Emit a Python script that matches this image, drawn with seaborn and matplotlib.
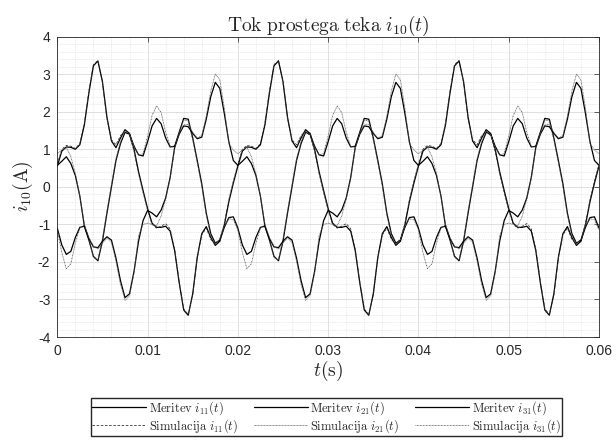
import matplotlib
matplotlib.use("Agg")
import matplotlib.pyplot as plt
import numpy as np
import pandas as pd
import seaborn as sns
from matplotlib.ticker import MultipleLocator

# no-load currents, one sample every 0.5 ms (0 ... 60 ms)
T_STEP = 0.0005
N_SAMPLES = 121

X_TICKS = [0, 0.01, 0.02, 0.03, 0.04, 0.05, 0.06]
X_TICK_LABELS = ["0", "0.01", "0.02", "0.03", "0.04", "0.05", "0.06"]
Y_TICKS = [-4, -3, -2, -1, 0, 1, 2, 3, 4]
Y_TICK_LABELS = ["-4", "-3", "-2", "-1", "0", "1", "2", "3", "4"]

meas_i11 = [
    0.55, 0.95, 1.06, 1.05, 1.00, 1.12, 1.65, 2.50, 3.22, 3.35, 2.80, 1.85, 1.22, 1.04, 1.30, 1.52, 1.42, 1.00, 0.40, -0.10,
    -0.58, -0.97, -1.08, -1.08, -1.05, -1.18, -1.70, -2.55, -3.28, -3.42, -2.85, -1.88, -1.25, -1.06, -1.35, -1.56, -1.45, -1.02, -0.40, 0.10,
    0.55, 0.95, 1.06, 1.05, 1.00, 1.12, 1.65, 2.50, 3.22, 3.35, 2.80, 1.85, 1.22, 1.04, 1.30, 1.52, 1.42, 1.00, 0.40, -0.10,
    -0.58, -0.97, -1.08, -1.08, -1.05, -1.18, -1.70, -2.55, -3.28, -3.42, -2.85, -1.88, -1.25, -1.06, -1.35, -1.56, -1.45, -1.02, -0.40, 0.10,
    0.55, 0.95, 1.06, 1.05, 1.00, 1.12, 1.65, 2.50, 3.22, 3.35, 2.80, 1.85, 1.22, 1.04, 1.30, 1.52, 1.42, 1.00, 0.40, -0.10,
    -0.58, -0.97, -1.08, -1.08, -1.05, -1.18, -1.70, -2.55, -3.28, -3.42, -2.85, -1.88, -1.25, -1.06, -1.35, -1.56, -1.45, -1.02, -0.40, 0.10,
    0.55,
]
sim_i11 = [
    0.60, 1.00, 1.10, 1.08, 1.02, 1.15, 1.70, 2.55, 3.25, 3.36, 2.78, 1.82, 1.25, 1.12, 1.36, 1.48, 1.36, 0.95, 0.35, -0.15,
    -0.62, -1.00, -1.10, -1.05, -0.98, -1.12, -1.66, -2.52, -3.25, -3.40, -2.88, -1.90, -1.28, -1.10, -1.40, -1.52, -1.40, -0.98, -0.35, 0.15,
    0.60, 1.00, 1.10, 1.08, 1.02, 1.15, 1.70, 2.55, 3.25, 3.36, 2.78, 1.82, 1.25, 1.12, 1.36, 1.48, 1.36, 0.95, 0.35, -0.15,
    -0.62, -1.00, -1.10, -1.05, -0.98, -1.12, -1.66, -2.52, -3.25, -3.40, -2.88, -1.90, -1.28, -1.10, -1.40, -1.52, -1.40, -0.98, -0.35, 0.15,
    0.60, 1.00, 1.10, 1.08, 1.02, 1.15, 1.70, 2.55, 3.25, 3.36, 2.78, 1.82, 1.25, 1.12, 1.36, 1.48, 1.36, 0.95, 0.35, -0.15,
    -0.62, -1.00, -1.10, -1.05, -0.98, -1.12, -1.66, -2.52, -3.25, -3.40, -2.88, -1.90, -1.28, -1.10, -1.40, -1.52, -1.40, -0.98, -0.35, 0.15,
    0.60,
]
meas_i21 = [
    -1.10, -1.55, -1.80, -1.72, -1.35, -1.08, -1.05, -1.42, -1.85, -1.97, -1.45, -0.70, 0.00, 0.70, 1.15, 1.45, 1.40, 1.08, 0.85, 0.82,
    1.20, 1.62, 1.82, 1.68, 1.30, 1.06, 1.08, 1.45, 1.82, 1.80, 1.30, 0.70, 0.08, -0.70, -1.25, -1.50, -1.42, -1.08, -0.82, -0.80,
    -1.10, -1.55, -1.80, -1.72, -1.35, -1.08, -1.05, -1.42, -1.85, -1.97, -1.45, -0.70, 0.00, 0.70, 1.15, 1.45, 1.40, 1.08, 0.85, 0.82,
    1.20, 1.62, 1.82, 1.68, 1.30, 1.06, 1.08, 1.45, 1.82, 1.80, 1.30, 0.70, 0.08, -0.70, -1.25, -1.50, -1.42, -1.08, -0.82, -0.80,
    -1.10, -1.55, -1.80, -1.72, -1.35, -1.08, -1.05, -1.42, -1.85, -1.97, -1.45, -0.70, 0.00, 0.70, 1.15, 1.45, 1.40, 1.08, 0.85, 0.82,
    1.20, 1.62, 1.82, 1.68, 1.30, 1.06, 1.08, 1.45, 1.82, 1.80, 1.30, 0.70, 0.08, -0.70, -1.25, -1.50, -1.42, -1.08, -0.82, -0.80,
    -1.10,
]
sim_i21 = [
    -1.15, -1.75, -2.18, -2.05, -1.50, -1.10, -1.02, -1.40, -1.88, -1.95, -1.40, -0.65, 0.05, 0.75, 1.20, 1.48, 1.40, 1.05, 0.85, 0.88,
    1.35, 1.90, 2.15, 1.98, 1.45, 1.08, 1.05, 1.42, 1.78, 1.75, 1.25, 0.65, 0.02, -0.75, -1.30, -1.52, -1.40, -1.05, -0.85, -0.88,
    -1.15, -1.75, -2.18, -2.05, -1.50, -1.10, -1.02, -1.40, -1.88, -1.95, -1.40, -0.65, 0.05, 0.75, 1.20, 1.48, 1.40, 1.05, 0.85, 0.88,
    1.35, 1.90, 2.15, 1.98, 1.45, 1.08, 1.05, 1.42, 1.78, 1.75, 1.25, 0.65, 0.02, -0.75, -1.30, -1.52, -1.40, -1.05, -0.85, -0.88,
    -1.15, -1.75, -2.18, -2.05, -1.50, -1.10, -1.02, -1.40, -1.88, -1.95, -1.40, -0.65, 0.05, 0.75, 1.20, 1.48, 1.40, 1.05, 0.85, 0.88,
    1.35, 1.90, 2.15, 1.98, 1.45, 1.08, 1.05, 1.42, 1.78, 1.75, 1.25, 0.65, 0.02, -0.75, -1.30, -1.52, -1.40, -1.05, -0.85, -0.88,
    -1.15,
]
meas_i31 = [
    0.57, 0.68, 0.80, 0.62, 0.30, -0.25, -1.05, -1.38, -1.60, -1.62, -1.45, -1.33, -1.42, -1.90, -2.50, -2.95, -2.85, -2.25, -1.45, -0.90,
    -0.63, -0.70, -0.80, -0.62, -0.30, 0.25, 1.05, 1.40, 1.62, 1.60, 1.42, 1.28, 1.32, 1.80, 2.40, 2.78, 2.62, 1.95, 1.20, 0.70,
    0.57, 0.68, 0.80, 0.62, 0.30, -0.25, -1.05, -1.38, -1.60, -1.62, -1.45, -1.33, -1.42, -1.90, -2.50, -2.95, -2.85, -2.25, -1.45, -0.90,
    -0.63, -0.70, -0.80, -0.62, -0.30, 0.25, 1.05, 1.40, 1.62, 1.60, 1.42, 1.28, 1.32, 1.80, 2.40, 2.78, 2.62, 1.95, 1.20, 0.70,
    0.57, 0.68, 0.80, 0.62, 0.30, -0.25, -1.05, -1.38, -1.60, -1.62, -1.45, -1.33, -1.42, -1.90, -2.50, -2.95, -2.85, -2.25, -1.45, -0.90,
    -0.63, -0.70, -0.80, -0.62, -0.30, 0.25, 1.05, 1.40, 1.62, 1.60, 1.42, 1.28, 1.32, 1.80, 2.40, 2.78, 2.62, 1.95, 1.20, 0.70,
    0.57,
]
sim_i31 = [
    0.88, 0.98, 1.05, 0.80, 0.35, -0.25, -1.00, -1.35, -1.58, -1.66, -1.50, -1.36, -1.48, -1.98, -2.60, -3.02, -2.90, -2.30, -1.30, -1.00,
    -0.97, -1.00, -1.04, -0.78, -0.32, 0.22, 1.02, 1.42, 1.65, 1.66, 1.45, 1.30, 1.36, 1.88, 2.55, 3.00, 2.85, 2.10, 1.15, 0.98,
    0.88, 0.98, 1.05, 0.80, 0.35, -0.25, -1.00, -1.35, -1.58, -1.66, -1.50, -1.36, -1.48, -1.98, -2.60, -3.02, -2.90, -2.30, -1.30, -1.00,
    -0.97, -1.00, -1.04, -0.78, -0.32, 0.22, 1.02, 1.42, 1.65, 1.66, 1.45, 1.30, 1.36, 1.88, 2.55, 3.00, 2.85, 2.10, 1.15, 0.98,
    0.88, 0.98, 1.05, 0.80, 0.35, -0.25, -1.00, -1.35, -1.58, -1.66, -1.50, -1.36, -1.48, -1.98, -2.60, -3.02, -2.90, -2.30, -1.30, -1.00,
    -0.97, -1.00, -1.04, -0.78, -0.32, 0.22, 1.02, 1.42, 1.65, 1.66, 1.45, 1.30, 1.36, 1.88, 2.55, 3.00, 2.85, 2.10, 1.15, 0.98,
    0.88,
]

LABELS = [
    r"$\mathrm{Meritev}\ i_{11}(t)$",
    r"$\mathrm{Simulacija}\ i_{11}(t)$",
    r"$\mathrm{Meritev}\ i_{21}(t)$",
    r"$\mathrm{Simulacija}\ i_{21}(t)$",
    r"$\mathrm{Meritev}\ i_{31}(t)$",
    r"$\mathrm{Simulacija}\ i_{31}(t)$",
]
SERIES = [meas_i11, sim_i11, meas_i21, sim_i21, meas_i31, sim_i31]
STYLES = [
    dict(color="black", linewidth=0.9, linestyle="-"),
    dict(color="0.2", linewidth=0.6, linestyle=(0, (3, 2))),
    dict(color="black", linewidth=0.9, linestyle="-"),
    dict(color="0.35", linewidth=0.6, linestyle=(0, (1.5, 0.8, 0.5, 0.8))),
    dict(color="black", linewidth=0.9, linestyle="-"),
    dict(color="0.35", linewidth=0.6, linestyle=(0, (1, 0.8))),
]


def main():
    sns.set_style("white")
    plt.rcParams["font.family"] = ["Liberation Sans", "DejaVu Sans"]
    plt.rcParams["mathtext.fontset"] = "cm"
    plt.rcParams["axes.unicode_minus"] = False

    t = np.arange(N_SAMPLES) * T_STEP
    df = pd.DataFrame({"t": t})

    fig = plt.figure(figsize=(6.16, 4.40), dpi=100)
    ax = fig.add_axes([0.093, 0.234, 0.8794, 0.683])

    for label, values, style in zip(LABELS, SERIES, STYLES):
        df[label] = values
        sns.lineplot(data=df, x="t", y=label, ax=ax, label=label,
                     estimator=None, **style)

    ax.set_xlim(0, 0.06)
    ax.set_ylim(-4, 4)
    ax.set_xticks(X_TICKS, X_TICK_LABELS)
    ax.set_yticks(Y_TICKS, Y_TICK_LABELS)
    ax.xaxis.set_minor_locator(MultipleLocator(0.002))
    ax.yaxis.set_minor_locator(MultipleLocator(0.2))

    ax.grid(which="major", color="#d9d9d9", linewidth=0.6, linestyle="-")
    ax.grid(which="minor", color="#e3e3e3", linewidth=0.5, linestyle=(0, (2, 1.5)))
    ax.set_axisbelow(True)

    ax.tick_params(which="major", direction="in", length=3.5, width=0.5,
                   top=True, right=True, colors="0.15", labelsize=10, pad=5)
    ax.tick_params(which="minor", length=0)
    for spine in ax.spines.values():
        spine.set_color("0.15")
        spine.set_linewidth(0.6)

    ax.set_title(r"$\mathrm{Tok\ prostega\ teka}\ i_{10}(t)$", fontsize=14, pad=4)
    ax.set_xlabel(r"$t(\mathrm{s})$", fontsize=14, labelpad=1)
    ax.set_ylabel(r"$i_{10}(\mathrm{A})$", fontsize=14, labelpad=2)

    handles, labels = ax.get_legend_handles_labels()
    ax.get_legend().remove()
    fig.legend(handles, labels, loc="upper center", bbox_to_anchor=(0.530, 0.096),
               ncol=3, fontsize=9, frameon=True, fancybox=False,
               edgecolor="0.15", framealpha=1, borderpad=0.1,
               handlelength=4.3, handletextpad=0.2, columnspacing=1.3,
               labelspacing=0.0, borderaxespad=0)

    fig.savefig("out.png", dpi=100)


if __name__ == "__main__":
    main()
